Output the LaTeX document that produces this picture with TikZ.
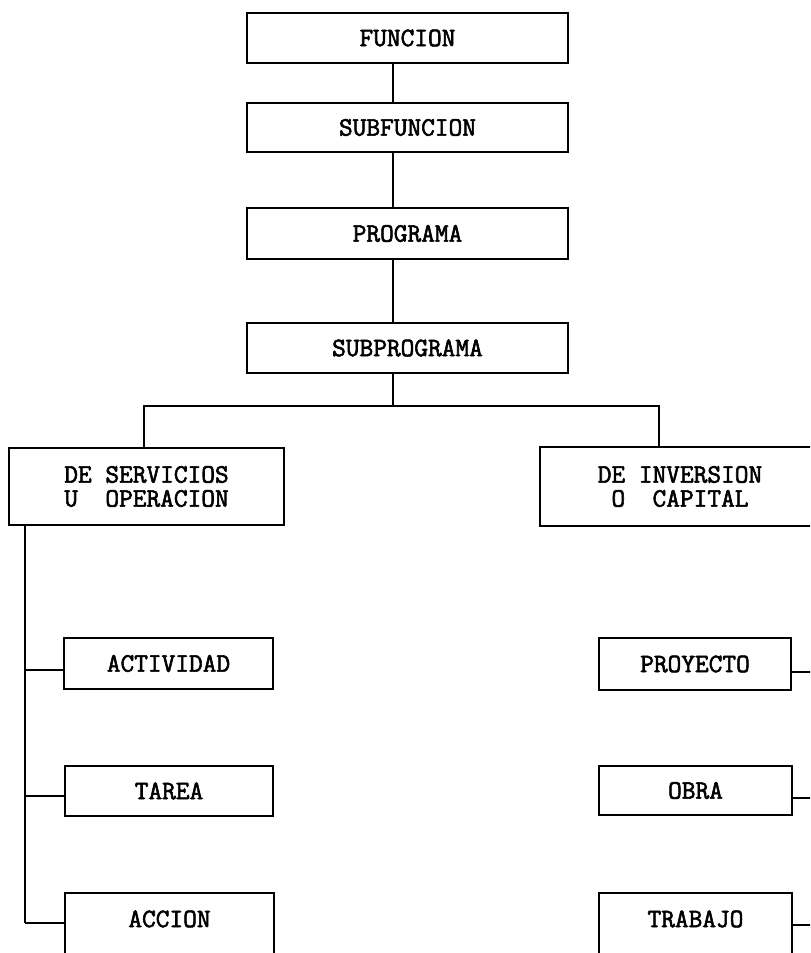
\documentclass[tikz,border=0pt]{standalone}
\usepackage{fontspec}
\newfontfamily\typewriter{Latin Modern Mono}[FakeBold=2.2]
\begin{document}
\begin{tikzpicture}[x=0.5pt,y=-0.5pt,
  box/.style={draw, line width=1.1pt, inner sep=0pt, align=center,
    font=\typewriter\fontsize{13.3}{12}\selectfont},
  link/.style={line width=1.1pt}]
\useasboundingbox (0,0) rectangle (810,953);
\fill[white] (0,0) rectangle (810,953);
\clip (0,0) rectangle (810,953);

% main column
\node[box, minimum width=160.5pt, minimum height=25pt]   (funcion)     at (407.5,38)    {FUNCION};
\node[box, minimum width=160.5pt, minimum height=24.5pt] (subfuncion)  at (407.5,127.5) {SUBFUNCION};
\node[box, minimum width=160.5pt, minimum height=25.5pt] (programa)    at (407.5,233.5) {PROGRAMA};
\node[box, minimum width=160.5pt, minimum height=25pt]   (subprograma) at (407.5,348)   {SUBPROGRAMA};

% the two branches
\node[box, minimum width=137.5pt, minimum height=38.5pt] (servicios) at (146.5,486.5) {DE SERVICIOS\\U~~OPERACION};
\node[box, minimum width=140pt,   minimum height=39.5pt] (inversion) at (680,486.5)   {DE INVERSION\\O~~CAPITAL};

% left branch items
\node[box, minimum width=104.5pt, minimum height=25.5pt] (actividad) at (168.5,663.5) {ACTIVIDAD};
\node[box, minimum width=104pt,   minimum height=25pt]   (tarea)     at (169,791)     {TAREA};
\node[box, minimum width=104.5pt, text height=17pt, text depth=50pt, anchor=north] (accion) at (169.5,892) {ACCION};

% right branch items
\node[box, minimum width=96pt, minimum height=26pt]   (proyecto) at (695,664)   {PROYECTO};
\node[box, minimum width=96.5pt, minimum height=24.5pt] (obra)   at (695.5,790.5) {OBRA};
\node[box, minimum width=96.5pt, text height=17pt, text depth=50pt, anchor=north] (trabajo) at (695.5,892) {TRABAJO};

% rails and junctions
\coordinate (spine) at (393,406);
\coordinate (lb) at (144,406);
\coordinate (rb) at (659,406);
\coordinate (leftrail) at (25,0);
\coordinate (rightrail) at (814,0);

\draw[link] (funcion.south -| spine) -- (subfuncion.north -| spine);
\draw[link] (subfuncion.south -| spine) -- (programa.north -| spine);
\draw[link] (programa.south -| spine) -- (subprograma.north -| spine);
\draw[link] (subprograma.south -| spine) -- (spine);
\draw[link] (servicios.north -| lb) -- (lb) -- (rb) -- (inversion.north -| rb);

% left rail with its stubs
\coordinate (s1) at ([yshift=-3.25pt]actividad.west);
\coordinate (s2) at ([yshift=-2.5pt]tarea.west);
\coordinate (s3) at ([yshift=-15.5pt]accion.north west);
\draw[link] (servicios.south -| leftrail) -- (s3 -| leftrail);
\draw[link] (s1) -- (s1 -| leftrail);
\draw[link] (s2) -- (s2 -| leftrail);
\draw[link] (s3) -- (s3 -| leftrail);

% right rail with its stubs
\coordinate (r1) at ([yshift=-4pt]proyecto.east);
\coordinate (r2) at ([yshift=-3.75pt]obra.east);
\coordinate (r3) at ([yshift=-16.5pt]trabajo.north east);
\draw[link] (inversion.south -| rightrail) -- (r3 -| rightrail);
\draw[link] (r1) -- (r1 -| rightrail);
\draw[link] (r2) -- (r2 -| rightrail);
\draw[link] (r3) -- (r3 -| rightrail);
\end{tikzpicture}
\end{document}
